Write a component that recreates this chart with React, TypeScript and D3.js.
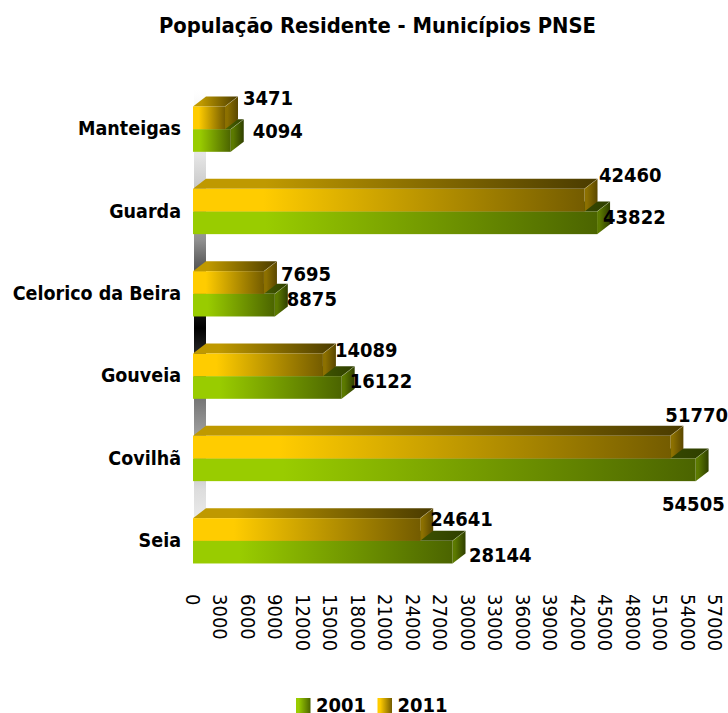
import React, { useEffect, useRef } from "react";
import * as d3 from "d3";

const categories = ["Manteigas", "Guarda", "Celorico da Beira", "Gouveia", "Covilhã", "Seia"];
const seriesNames = ["2011", "2001"];
const values2011 = [3471, 42460, 7695, 14089, 51770, 24641];
const values2001 = [4094, 43822, 8875, 16122, 54505, 28144];
const tickValues = d3.range(0, 57001, 3000);

// hand placed value labels, the original has them scattered: [dx, dy] from bar end
const nudge2011 = [[18, -19], [14.5, -24], [17, -7.5], [12, -14], [-5, -31], [10, -9.5]];
const nudge2001 = [[22, -8], [6, -5], [12, -5], [8, -5], [-33.5, 35], [16.5, 4]];

const FONT = "'DejaVu Sans Condensed', 'DejaVu Sans', sans-serif";
const DX = 13;
const DY = 10;

const faces: Record<string, any> = {
  "2011": {
    front: ["#ffcc00", "#ffcc00", "#745c00"],
    top: ["#bf9900", "#bf9900", "#4a3b00"],
    side: ["#8c7000", "#8c7000", "#5a4700"],
  },
  "2001": {
    front: ["#99cc00", "#99cc00", "#4b6400"],
    top: ["#739900", "#739900", "#2f3f00"],
    side: ["#5c7a00", "#5c7a00", "#2f3f00"],
  },
};

// grey shades of the back wall, read at these pixel rows
const wallRows = [90, 155, 180, 240, 260, 300, 328, 345, 400, 430, 490, 566];
const wallGreys = ["#ffffff", "#e5e5e5", "#d0d0d0", "#909090", "#666666", "#222222", "#000000", "#1a1a1a", "#777777", "#999999", "#dddddd", "#ffffff"];

export default function App() {
  const svgRef = useRef<SVGSVGElement>(null);

  useEffect(() => {
    const svg = d3.select(svgRef.current);
    svg.selectAll("*").remove();

    const x = d3.scaleLinear().domain([0, 57000]).range([193, 718.6]);
    const tickX = d3.scaleLinear().domain([0, 57000]).range([193, 715]);
    const y = d3
      .scaleBand()
      .domain(categories)
      .range([88, 582])
      .paddingInner(0.45)
      .paddingOuter(0.225);
    const yInner = d3.scaleBand().domain(seriesNames).range([0, y.bandwidth()]);

    const defs = svg.append("defs");
    const grad = (id: string, c: string[]) => {
      const g = defs.append("linearGradient").attr("id", id);
      g.append("stop").attr("offset", "0%").attr("stop-color", c[0]);
      g.append("stop").attr("offset", "18%").attr("stop-color", c[1]);
      g.append("stop").attr("offset", "100%").attr("stop-color", c[2]);
    };
    seriesNames.forEach((s) => {
      grad(`front-${s}`, faces[s].front);
      grad(`top-${s}`, faces[s].top);
      grad(`side-${s}`, [faces[s].side[0], faces[s].side[0], faces[s].side[2]]);
    });
    const wall = defs
      .append("linearGradient")
      .attr("id", "wall")
      .attr("x1", 0)
      .attr("y1", 0)
      .attr("x2", 0)
      .attr("y2", 1);
    wallRows.forEach((r, i) =>
      wall
        .append("stop")
        .attr("offset", (r - wallRows[0]) / (wallRows[wallRows.length - 1] - wallRows[0]))
        .attr("stop-color", wallGreys[i])
    );

    // back wall strip
    svg
      .append("rect")
      .attr("x", x(0) + 1)
      .attr("y", wallRows[0])
      .attr("width", DX - 1)
      .attr("height", wallRows[wallRows.length - 1] - wallRows[0])
      .attr("fill", "url(#wall)");

    // title
    svg
      .append("text")
      .attr("x", 377.5)
      .attr("y", 33)
      .attr("text-anchor", "middle")
      .attr("font-size", 21.8)
      .attr("font-weight", "bold")
      .attr("font-family", FONT)
      .text("População Residente - Municípios PNSE");

    // category labels
    svg
      .append("g")
      .selectAll("text")
      .data(categories)
      .join("text")
      .attr("x", 181)
      .attr("y", (d) => y(d)! + y.bandwidth() / 2 + 6)
      .attr("text-anchor", "end")
      .attr("font-size", 19.5)
      .attr("font-weight", "bold")
      .attr("font-family", FONT)
      .text((d) => d);

    // bars, 2001 first so the 2011 side face stays on top of it
    const drawBar = (cat: string, s: string, value: number) => {
      const x0 = x(0);
      const x1 = x(value);
      const y0 = y(cat)! + yInner(s)!;
      const h = yInner.bandwidth();
      const g = svg.append("g");
      g.append("polygon")
        .attr("points", `${x0},${y0} ${x0 + DX},${y0 - DY} ${x1 + DX},${y0 - DY} ${x1},${y0}`)
        .attr("fill", `url(#top-${s})`);
      g.append("polygon")
        .attr("points", `${x1},${y0} ${x1 + DX},${y0 - DY} ${x1 + DX},${y0 + h - DY} ${x1},${y0 + h}`)
        .attr("fill", `url(#side-${s})`);
      g.append("rect")
        .attr("x", x0)
        .attr("y", y0)
        .attr("width", x1 - x0)
        .attr("height", h)
        .attr("fill", `url(#front-${s})`);
      // faint highlight on the corner edge
      g.append("line")
        .attr("x1", x1)
        .attr("y1", y0)
        .attr("x2", x1 + DX)
        .attr("y2", y0 - DY)
        .attr("stroke", "#fff")
        .attr("stroke-opacity", 0.3)
        .attr("stroke-width", 0.7);
    };
    categories.forEach((c, i) => {
      drawBar(c, "2001", values2001[i]);
      drawBar(c, "2011", values2011[i]);
    });

    // value labels
    const drawLabels = (s: string, vals: number[], nudge: number[][]) => {
      svg
        .append("g")
        .selectAll("text")
        .data(categories)
        .join("text")
        .attr("x", (_, i) => x(vals[i]) + nudge[i][0])
        .attr("y", (d, i) => y(d)! + yInner(s)! + yInner.bandwidth() / 2 + 6 + nudge[i][1])
        .attr("font-size", 20)
        .attr("font-weight", "bold")
        .attr("font-family", FONT)
        .text((_, i) => vals[i]);
    };
    drawLabels("2011", values2011, nudge2011);
    drawLabels("2001", values2001, nudge2001);

    // value axis, labels turned a quarter
    svg
      .append("g")
      .selectAll("text")
      .data(tickValues)
      .join("text")
      .attr("transform", (d) => `translate(${tickX(d) - 7},594) rotate(90)`)
      .attr("font-size", 20)
      .attr("font-family", FONT)
      .text((d) => d);

    // legend
    const legend = svg.append("g").selectAll("g").data(["2001", "2011"]).join("g");
    legend
      .append("rect")
      .attr("x", (_, i) => 296 + i * 81.5)
      .attr("y", 698)
      .attr("width", 14.5)
      .attr("height", 15)
      .attr("fill", (d) => `url(#front-${d})`);
    legend
      .append("text")
      .attr("x", (_, i) => 316 + i * 81.5)
      .attr("y", 711.5)
      .attr("font-size", 20)
      .attr("font-weight", "bold")
      .attr("font-family", FONT)
      .text((d) => d);
  }, []);

  return <svg ref={svgRef} width={728} height={713} style={{ position: "absolute", left: 0, top: 0 }} />;
}
